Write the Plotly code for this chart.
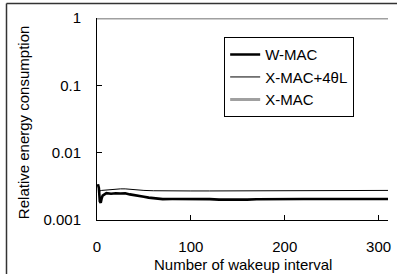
import plotly.graph_objects as go

# W-MAC (thick black)
wmac_x = [1, 2, 3, 4, 5, 6, 8, 10, 15, 20, 25, 30, 35, 40, 45, 50, 55, 60, 65, 70,
          80, 90, 100, 110, 120, 130, 140, 150, 160, 170, 180, 190, 200, 220, 250, 280, 310]
wmac_y = [0.0034, 0.0030, 0.0019, 0.0018, 0.0021, 0.0023, 0.0024, 0.0025, 0.00245, 0.0025,
          0.00248, 0.0025, 0.0024, 0.00235, 0.0023, 0.00222, 0.00215, 0.0021, 0.00206, 0.00204,
          0.00205, 0.00206, 0.00205, 0.00206, 0.00204, 0.00201, 0.00200, 0.00202, 0.00201,
          0.00203, 0.00204, 0.00203, 0.00205, 0.00205, 0.00205, 0.00205, 0.00205]

# X-MAC+4θL (thin black)
xmac4_x = [1, 2, 3, 5, 10, 15, 20, 25, 30, 35, 40, 50, 60, 70, 80, 100, 120, 150, 180,
           200, 210, 215, 220, 230, 240, 250, 260, 270, 280, 285, 290, 300, 310]
xmac4_y = [0.0034, 0.0029, 0.0027, 0.00275, 0.0028, 0.0028, 0.00285, 0.0029, 0.0029, 0.00285,
           0.0028, 0.00275, 0.00272, 0.0027, 0.0027, 0.0027, 0.0027, 0.0027, 0.0027, 0.0027,
           0.00272, 0.00276, 0.00272, 0.00275, 0.00272, 0.00272, 0.00275, 0.00272, 0.00272,
           0.00276, 0.00274, 0.00275, 0.00275]

# X-MAC (gray, constant 1)
xmac_x = [0, 310]
xmac_y = [1, 1]

ytick_vals = [0.001, 0.01, 0.1, 1]
ytick_text = ["0.001", "0.01", "0.1", "1"]
xtick_vals = [0, 100, 200, 300]

FONT = "Arial, Liberation Sans, sans-serif"

fig = go.Figure()
fig.add_trace(go.Scatter(x=wmac_x, y=wmac_y, mode="lines", name="W-MAC",
                         line=dict(color="black", width=2.6)))
fig.add_trace(go.Scatter(x=xmac4_x, y=xmac4_y, mode="lines", name="X-MAC+4θL",
                         line=dict(color="black", width=1)))
fig.add_trace(go.Scatter(x=xmac_x, y=xmac_y, mode="lines", name="X-MAC",
                         line=dict(color="#a0a0a0", width=3), cliponaxis=False))

fig.update_layout(
    width=397, height=274, autosize=False,
    margin=dict(l=97, r=9, t=18, b=54, autoexpand=False),
    paper_bgcolor="white", plot_bgcolor="white",
    font=dict(family=FONT, size=15, color="black"),
    showlegend=True,
    legend=dict(x=0.437, y=0.905, xanchor="left", yanchor="top",
                bordercolor="black", borderwidth=1, bgcolor="white",
                font=dict(family=FONT, size=15, color="black"),
                tracegroupgap=0, itemwidth=30),
    xaxis=dict(range=[0, 310], tickvals=xtick_vals, ticks="inside", ticklen=5,
               tickcolor="black", showline=True, linecolor="black", linewidth=1,
               showgrid=False, zeroline=False, ticklabelstandoff=13, automargin=False),
    yaxis=dict(type="log", range=[-3, 0], tickvals=ytick_vals, ticktext=ytick_text,
               ticks="inside", ticklen=5, tickcolor="black", showline=True,
               linecolor="black", linewidth=1, showgrid=False, zeroline=False,
               ticklabelstandoff=12, automargin=False),
    annotations=[
        dict(text="Number of wakeup interval", xref="paper", yref="paper",
             x=0.5, y=-0.22, xanchor="center", yanchor="middle", showarrow=False,
             font=dict(family=FONT, size=15)),
        dict(text="Relative energy consumption", xref="paper", yref="paper",
             x=-0.254, y=0.48, xanchor="center", yanchor="middle", showarrow=False,
             textangle=-90, font=dict(family=FONT, size=15)),
    ],
    shapes=[
        dict(type="line", xref="paper", yref="paper", x0=-0.311, x1=1.2, y0=1.072, y1=1.072,
             line=dict(color="#333333", width=1.5)),
        dict(type="line", xref="paper", yref="paper", x0=-0.311, x1=-0.311, y0=1.072, y1=-0.4,
             line=dict(color="#333333", width=1.5)),
    ],
)

fig.write_html("out.html", config={"displayModeBar": False},
               post_script="document.body.style.margin='0';document.body.style.overflow='hidden';")
